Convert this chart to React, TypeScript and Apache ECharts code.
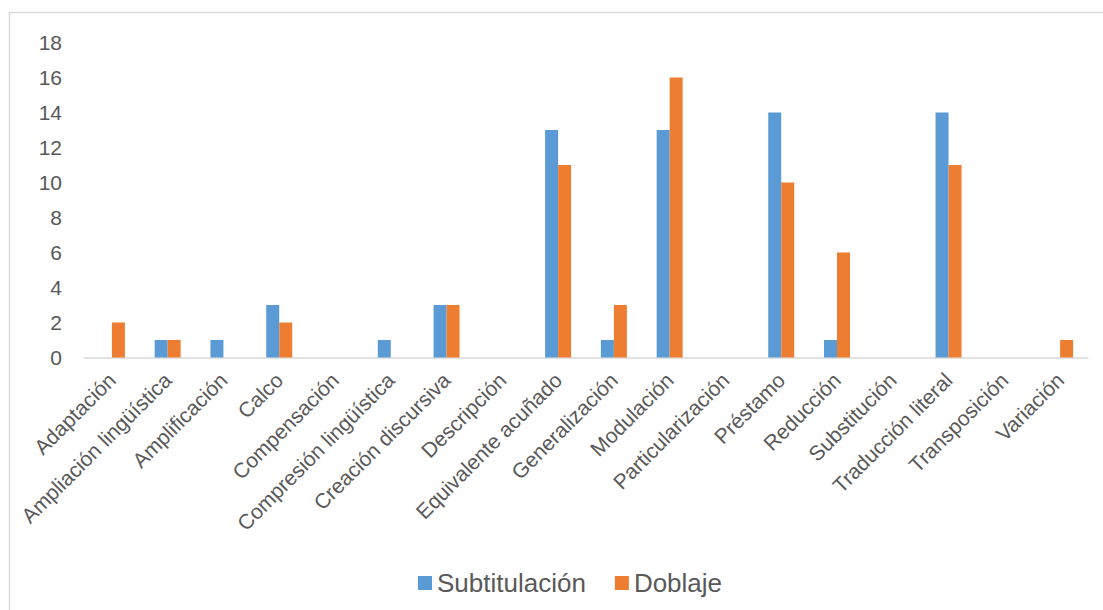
import React, { useEffect, useRef } from "react";
import * as echarts from "echarts";

// Translation techniques (x axis categories)
const categories = [
  "Adaptación",
  "Ampliación lingüística",
  "Amplificación",
  "Calco",
  "Compensación",
  "Compresión lingüística",
  "Creación discursiva",
  "Descripción",
  "Equivalente acuñado",
  "Generalización",
  "Modulación",
  "Particularización",
  "Préstamo",
  "Reducción",
  "Substitución",
  "Traducción literal",
  "Transposición",
  "Variación",
];

const seriesNames = ["Subtitulación", "Doblaje"];

const subtitulacion = [0, 1, 1, 3, 0, 1, 3, 0, 13, 1, 13, 0, 14, 1, 0, 14, 0, 0];
const doblaje = [2, 1, 0, 2, 0, 0, 3, 0, 11, 3, 16, 0, 10, 6, 0, 11, 0, 1];

const yMin = 0;
const yMax = 18;
const yStep = 2;

const FONT = "'Liberation Sans', Arial, sans-serif";
const TEXT_COLOR = "#595959";
const LINE_COLOR = "#d9d9d9";

export default function App() {
  const ref = useRef<HTMLDivElement>(null);

  useEffect(() => {
    if (!ref.current) return;
    const chart = echarts.init(ref.current, null, { renderer: "svg" });
    chart.setOption({
      animation: false,
      backgroundColor: "#ffffff",
      graphic: [
        {
          type: "rect",
          shape: { x: 9.5, y: 12.5, width: 1300, height: 800 },
          style: { fill: "none", stroke: LINE_COLOR, lineWidth: 1.5 },
          silent: true,
          z: -1,
        },
      ],
      grid: {
        left: 84,
        right: 15,
        top: 42.5,
        bottom: 252.5,
        containLabel: false,
      },
      legend: {
        data: seriesNames,
        left: 413,
        top: 565,
        icon: "rect",
        itemWidth: 14,
        itemHeight: 14,
        itemGap: 29,
        textStyle: {
          color: TEXT_COLOR,
          fontFamily: FONT,
          fontSize: 26,
        },
      },
      xAxis: {
        type: "category",
        data: categories,
        axisLine: { show: true, lineStyle: { color: LINE_COLOR, width: 1.5 } },
        axisTick: { show: false },
        axisLabel: {
          interval: 0,
          rotate: 45,
          margin: 19,
          color: TEXT_COLOR,
          fontFamily: FONT,
          fontSize: 21,
        },
      },
      yAxis: {
        type: "value",
        min: yMin,
        max: yMax,
        interval: yStep,
        axisLine: { show: false },
        axisTick: { show: false },
        splitLine: { show: false },
        axisLabel: {
          margin: 22,
          color: TEXT_COLOR,
          fontFamily: FONT,
          fontSize: 21,
        },
      },
      series: [
        {
          name: seriesNames[0],
          type: "bar",
          data: subtitulacion,
          barWidth: 13,
          barGap: "0%",
          itemStyle: { color: "#5B9BD5" },
        },
        {
          name: seriesNames[1],
          type: "bar",
          data: doblaje,
          barWidth: 13,
          barGap: "0%",
          itemStyle: { color: "#ED7D31" },
        },
      ],
    });
    return () => chart.dispose();
  }, []);

  return (
    <div
      ref={ref}
      style={{ position: "fixed", left: 0, top: 0, width: 1103, height: 610 }}
    />
  );
}
